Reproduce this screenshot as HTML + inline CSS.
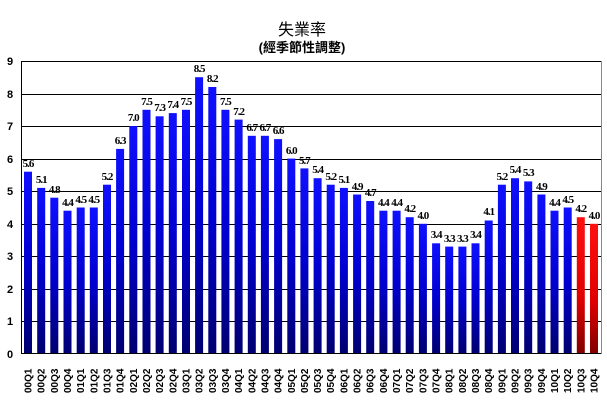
<!DOCTYPE html>
<html><head><meta charset="utf-8"><style>
html,body{margin:0;padding:0;background:#fff;}
svg{display:block;}
.v{font-family:"Liberation Serif",serif;font-weight:bold;font-size:11px;text-anchor:middle;letter-spacing:-1px;}
.x{font-family:"Liberation Sans",sans-serif;font-weight:bold;font-size:10px;}
.y{font-family:"Liberation Sans",sans-serif;font-weight:bold;font-size:11px;text-anchor:middle;}
</style></head><body>
<svg width="607" height="407" viewBox="0 0 607 407" xmlns="http://www.w3.org/2000/svg">
<defs>
<linearGradient id="b" x1="0" y1="0" x2="0" y2="1"><stop offset="0" stop-color="#1010ff"/><stop offset="0.5" stop-color="#0000d0"/><stop offset="1" stop-color="#000070"/></linearGradient>
<linearGradient id="r" x1="0" y1="0" x2="0" y2="1"><stop offset="0" stop-color="#ff1010"/><stop offset="0.6" stop-color="#e00000"/><stop offset="1" stop-color="#800000"/></linearGradient>
</defs>
<text x="302" y="35" font-family="'Liberation Sans','Noto Sans CJK TC',sans-serif" font-size="16" text-anchor="middle">失業率</text>
<text x="302" y="52" font-family="'Liberation Sans','Noto Sans CJK TC',sans-serif" font-size="13" font-weight="bold" text-anchor="middle">(經季節性調整)</text>
<g stroke="#000" stroke-width="1">
<line x1="21" y1="61.5" x2="602" y2="61.5"/><line x1="21" y1="94.5" x2="602" y2="94.5"/><line x1="21" y1="126.5" x2="602" y2="126.5"/><line x1="21" y1="159.5" x2="602" y2="159.5"/><line x1="21" y1="191.5" x2="602" y2="191.5"/><line x1="21" y1="224.5" x2="602" y2="224.5"/><line x1="21" y1="256.5" x2="602" y2="256.5"/><line x1="21" y1="289.5" x2="602" y2="289.5"/><line x1="21" y1="321.5" x2="602" y2="321.5"/>
</g>
<g class="y">
<text x="10" y="65">9</text><text x="10" y="98">8</text><text x="10" y="130">7</text><text x="10" y="163">6</text><text x="10" y="195">5</text><text x="10" y="228">4</text><text x="10" y="260">3</text><text x="10" y="293">2</text><text x="10" y="325">1</text><text x="10" y="358">0</text>
</g>
<g fill="url(#b)">
<rect x="24.0" y="171.7" width="8" height="182.3"/>
<rect x="37.2" y="187.9" width="8" height="166.1"/>
<rect x="50.3" y="197.7" width="8" height="156.3"/>
<rect x="63.5" y="210.7" width="8" height="143.3"/>
<rect x="76.7" y="207.5" width="8" height="146.5"/>
<rect x="89.8" y="207.5" width="8" height="146.5"/>
<rect x="103.0" y="184.7" width="8" height="169.3"/>
<rect x="116.1" y="148.9" width="8" height="205.1"/>
<rect x="129.3" y="126.1" width="8" height="227.9"/>
<rect x="142.5" y="109.8" width="8" height="244.2"/>
<rect x="155.6" y="116.3" width="8" height="237.7"/>
<rect x="168.8" y="113.1" width="8" height="240.9"/>
<rect x="182.0" y="109.8" width="8" height="244.2"/>
<rect x="195.1" y="77.2" width="8" height="276.8"/>
<rect x="208.3" y="87.0" width="8" height="267.0"/>
<rect x="221.4" y="109.8" width="8" height="244.2"/>
<rect x="234.6" y="119.6" width="8" height="234.4"/>
<rect x="247.8" y="135.8" width="8" height="218.2"/>
<rect x="260.9" y="135.8" width="8" height="218.2"/>
<rect x="274.1" y="139.1" width="8" height="214.9"/>
<rect x="287.3" y="158.6" width="8" height="195.4"/>
<rect x="300.4" y="168.4" width="8" height="185.6"/>
<rect x="313.6" y="178.2" width="8" height="175.8"/>
<rect x="326.7" y="184.7" width="8" height="169.3"/>
<rect x="339.9" y="187.9" width="8" height="166.1"/>
<rect x="353.1" y="194.5" width="8" height="159.5"/>
<rect x="366.2" y="201.0" width="8" height="153.0"/>
<rect x="379.4" y="210.7" width="8" height="143.3"/>
<rect x="392.6" y="210.7" width="8" height="143.3"/>
<rect x="405.7" y="217.2" width="8" height="136.8"/>
<rect x="418.9" y="223.8" width="8" height="130.2"/>
<rect x="432.1" y="243.3" width="8" height="110.7"/>
<rect x="445.2" y="246.6" width="8" height="107.4"/>
<rect x="458.4" y="246.6" width="8" height="107.4"/>
<rect x="471.5" y="243.3" width="8" height="110.7"/>
<rect x="484.7" y="220.5" width="8" height="133.5"/>
<rect x="497.9" y="184.7" width="8" height="169.3"/>
<rect x="511.0" y="178.2" width="8" height="175.8"/>
<rect x="524.2" y="181.4" width="8" height="172.6"/>
<rect x="537.4" y="194.5" width="8" height="159.5"/>
<rect x="550.5" y="210.7" width="8" height="143.3"/>
<rect x="563.7" y="207.5" width="8" height="146.5"/>
</g>
<g fill="url(#r)">
<rect x="576.8" y="217.2" width="8" height="136.8"/>
<rect x="590.0" y="223.8" width="8" height="130.2"/>
</g>
<line x1="21.5" y1="61" x2="21.5" y2="354" stroke="#000"/>
<line x1="21" y1="353.5" x2="602" y2="353.5" stroke="#000"/>
<line x1="601.5" y1="61" x2="601.5" y2="354" stroke="#888"/>
<g class="v">
<text x="28.0" y="167">5.6</text><text x="41.2" y="183">5.1</text><text x="54.3" y="193">4.8</text><text x="67.5" y="206">4.4</text><text x="80.7" y="203">4.5</text><text x="93.8" y="203">4.5</text><text x="107.0" y="180">5.2</text><text x="120.1" y="144">6.3</text><text x="133.3" y="121">7.0</text><text x="146.5" y="105">7.5</text><text x="159.6" y="111">7.3</text><text x="172.8" y="108">7.4</text><text x="186.0" y="105">7.5</text><text x="199.1" y="72">8.5</text><text x="212.3" y="82">8.2</text><text x="225.4" y="105">7.5</text><text x="238.6" y="115">7.2</text><text x="251.8" y="131">6.7</text><text x="264.9" y="131">6.7</text><text x="278.1" y="134">6.6</text><text x="291.3" y="154">6.0</text><text x="304.4" y="164">5.7</text><text x="317.6" y="173">5.4</text><text x="330.7" y="180">5.2</text><text x="343.9" y="183">5.1</text><text x="357.1" y="190">4.9</text><text x="370.2" y="196">4.7</text><text x="383.4" y="206">4.4</text><text x="396.6" y="206">4.4</text><text x="409.7" y="212">4.2</text><text x="422.9" y="219">4.0</text><text x="436.1" y="238">3.4</text><text x="449.2" y="242">3.3</text><text x="462.4" y="242">3.3</text><text x="475.5" y="238">3.4</text><text x="488.7" y="215">4.1</text><text x="501.9" y="180">5.2</text><text x="515.0" y="173">5.4</text><text x="528.2" y="176">5.3</text><text x="541.4" y="190">4.9</text><text x="554.5" y="206">4.4</text><text x="567.7" y="203">4.5</text><text x="580.8" y="212">4.2</text><text x="594.0" y="219">4.0</text>
</g>
<g class="x">
<text transform="translate(31.5,393) rotate(-90)">00Q1</text>
<text transform="translate(44.7,393) rotate(-90)">00Q2</text>
<text transform="translate(57.8,393) rotate(-90)">00Q3</text>
<text transform="translate(71.0,393) rotate(-90)">00Q4</text>
<text transform="translate(84.2,393) rotate(-90)">01Q1</text>
<text transform="translate(97.3,393) rotate(-90)">01Q2</text>
<text transform="translate(110.5,393) rotate(-90)">01Q3</text>
<text transform="translate(123.6,393) rotate(-90)">01Q4</text>
<text transform="translate(136.8,393) rotate(-90)">02Q1</text>
<text transform="translate(150.0,393) rotate(-90)">02Q2</text>
<text transform="translate(163.1,393) rotate(-90)">02Q3</text>
<text transform="translate(176.3,393) rotate(-90)">02Q4</text>
<text transform="translate(189.5,393) rotate(-90)">03Q1</text>
<text transform="translate(202.6,393) rotate(-90)">03Q2</text>
<text transform="translate(215.8,393) rotate(-90)">03Q3</text>
<text transform="translate(228.9,393) rotate(-90)">03Q4</text>
<text transform="translate(242.1,393) rotate(-90)">04Q1</text>
<text transform="translate(255.3,393) rotate(-90)">04Q2</text>
<text transform="translate(268.4,393) rotate(-90)">04Q3</text>
<text transform="translate(281.6,393) rotate(-90)">04Q4</text>
<text transform="translate(294.8,393) rotate(-90)">05Q1</text>
<text transform="translate(307.9,393) rotate(-90)">05Q2</text>
<text transform="translate(321.1,393) rotate(-90)">05Q3</text>
<text transform="translate(334.2,393) rotate(-90)">05Q4</text>
<text transform="translate(347.4,393) rotate(-90)">06Q1</text>
<text transform="translate(360.6,393) rotate(-90)">06Q2</text>
<text transform="translate(373.7,393) rotate(-90)">06Q3</text>
<text transform="translate(386.9,393) rotate(-90)">06Q4</text>
<text transform="translate(400.1,393) rotate(-90)">07Q1</text>
<text transform="translate(413.2,393) rotate(-90)">07Q2</text>
<text transform="translate(426.4,393) rotate(-90)">07Q3</text>
<text transform="translate(439.6,393) rotate(-90)">07Q4</text>
<text transform="translate(452.7,393) rotate(-90)">08Q1</text>
<text transform="translate(465.9,393) rotate(-90)">08Q2</text>
<text transform="translate(479.0,393) rotate(-90)">08Q3</text>
<text transform="translate(492.2,393) rotate(-90)">08Q4</text>
<text transform="translate(505.4,393) rotate(-90)">09Q1</text>
<text transform="translate(518.5,393) rotate(-90)">09Q2</text>
<text transform="translate(531.7,393) rotate(-90)">09Q3</text>
<text transform="translate(544.9,393) rotate(-90)">09Q4</text>
<text transform="translate(558.0,393) rotate(-90)">10Q1</text>
<text transform="translate(571.2,393) rotate(-90)">10Q2</text>
<text transform="translate(584.3,393) rotate(-90)">10Q3</text>
<text transform="translate(597.5,393) rotate(-90)">10Q4</text>
</g>
</svg>
</body></html>
